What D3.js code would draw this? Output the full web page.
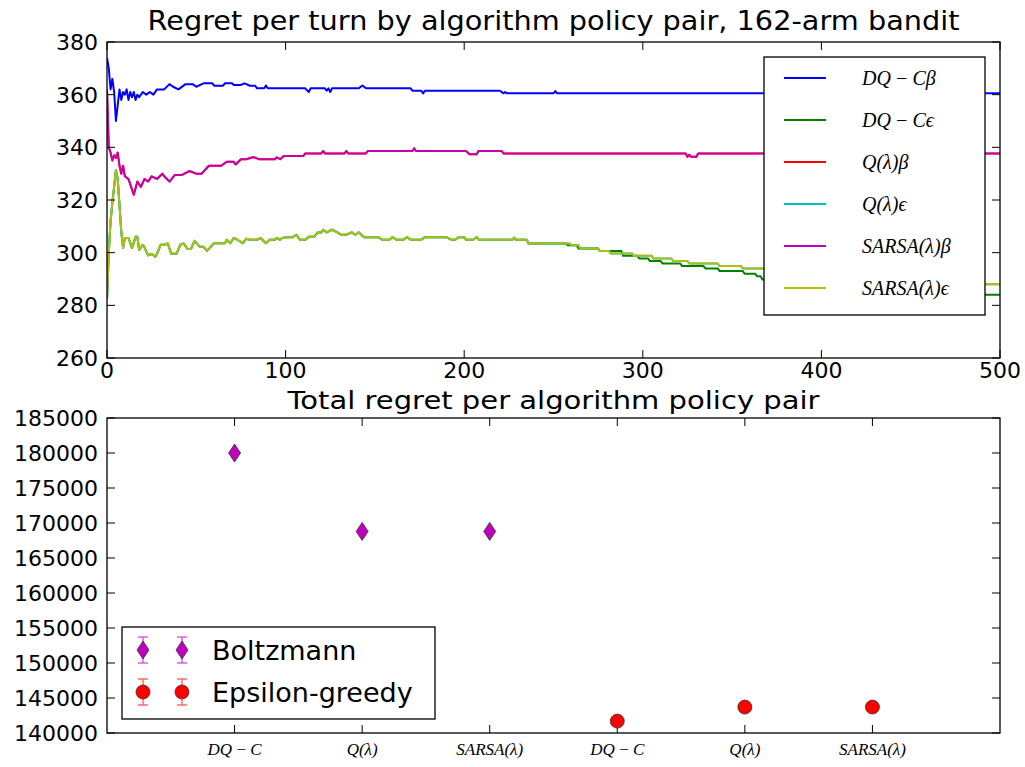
<!DOCTYPE html>
<html>
<head>
<meta charset="utf-8">
<script src="https://cdn.jsdelivr.net/npm/d3@7"></script>
<style>
  body { margin: 0; background: #fff; }
  text { font-family: "DejaVu Sans", sans-serif; }
  .math { font-family: "Liberation Serif", serif; font-style: italic; }
</style>
</head>
<body>
<script>
// ---- data: regret per turn as [turn, regret] breakpoints ----
var dqcBeta = [[0,374],[1,370],[2,362],[3,366],[4,361],[5,350],[6,356],[7,362],[8,358],[9,361],[10,360],[11,362],[12,358],[13,361],[14,359],[15,361],[16,358],[17,360],[18,359],[20,361],[22,360],[24,361],[26,360],[28,362],[32,362],[35,364],[37,363],[40,362],[44,364],[48,364],[50,363],[54,364.3],[59,364.3],[60,363.4],[65,363.4],[66,364.3],[70,364.3],[71,363.7],[75,363.7],[77,364.3],[80,363.4],[83,363.4],[84,362.4],[88,362.4],[89,363.5],[90,362.4],[111,362.4],[113,361],[114,362.4],[122,362.4],[123,361.5],[124,362.4],[125,361],[126,362.4],[141,362.4],[143,363.5],[145,362.4],[170,362.4],[171,361.5],[176,361.5],[177,360.5],[178,361.5],[220,361.5],[222,360.5],[223,361],[224,360.5],[250,360.5],[251,361.4],[252,360.5],[500,360.5]];

var sarsaBeta = [[0,362],[1,340],[2,338],[3,335],[4,337],[5,336],[6,338],[7,333],[8,330],[9,333],[10,329],[12,328],[13,326],[15,322],[17,327],[19,325],[21,328],[23,327],[25,329],[28,328],[31,330],[32,329],[35,327],[38,329.5],[42,329.5],[46,331],[50,330],[53,330],[57,333],[64,333],[67,334.5],[71,334.5],[72,333.5],[75,335.5],[78,335.5],[82,336.3],[85,335.5],[94,335.5],[95,336.2],[97,335.5],[99,336.7],[110,336.7],[111,337.7],[120,337.7],[121,338.6],[122,337.7],[133,337.7],[134,338.6],[135,337.7],[145,337.7],[146,338.6],[171,338.6],[172,339.6],[173,338.6],[201,338.6],[203,337.4],[207,337.4],[208,338.6],[221,338.6],[222,337.7],[324,337.7],[325,336.4],[326,337.2],[327,336.4],[330,336.4],[331,337.7],[500,337.7]];

var sarsaEps = [[0,282],[1,300],[2,312],[3,319],[4,325],[5,331.4],[6,328],[7,318],[8,308],[9,301.8],[10,305.6],[12,305.6],[14,301.8],[16,306],[17,306],[18,301],[20,303],[21,302],[23,299],[25,299.5],[27,298.5],[28,299.5],[30,303],[32,303],[34,303.5],[36,299.6],[39,299.6],[41,303],[43,303.5],[45,301.4],[47,301.4],[49,304.5],[52,302.2],[54,302.2],[56,300.7],[60,303.6],[66,303.6],[67,304.9],[69,303.6],[71,305.6],[73,304.9],[76,303.6],[78,305.3],[80,304.9],[84,304.9],[86,305.6],[89,303.6],[91,304.9],[94,304.9],[95,305.6],[97,304.9],[98,305.6],[101,305.9],[104,305.9],[106,306.8],[108,304.9],[111,304.9],[113,306],[116,306],[118,307.7],[120,307.7],[121,308.7],[123,307.7],[126,308.7],[129,307.7],[131,306.8],[134,306.8],[137,307.7],[139,306.8],[141,307.7],[144,305.9],[152,305.9],[154,304.9],[158,304.9],[160,305.9],[162,304.9],[166,304.9],[168,305.9],[170,304.9],[176,304.9],[178,305.9],[190,305.9],[193,304.9],[195,304.9],[197,305.9],[200,305.9],[201,304.9],[205,304.9],[207,305.9],[208,304.9],[227,304.9],[228,305.7],[229,304.9],[235,304.9],[236,303.5],[259,303.5],[260,302.8],[264,302.8],[265,301.6],[275,301.6],[276,300.6],[281,300.6],[282,299.7],[294,299.7],[295,298.8],[305,298.8],[306,297.8],[316,297.8],[317,296.8],[325,296.8],[326,295.9],[342,295.9],[343,294.9],[355,294.9],[356,294],[372,294],[373,293.2],[400,293.2],[401,292],[440,292],[441,290.5],[470,290.5],[471,288],[500,288]];

// DQ-C epsilon follows SARSA epsilon until turn ~257, then drops a little lower
var dqcEpsTail = [[257,303.5],[258,302.8],[263,302.8],[264,301.6],[275,301.6],[276,300.6],[288,300.6],[289,298.8],[297,298.8],[298,297.8],[303,297.8],[304,296.8],[310,296.8],[311,295.9],[321,295.9],[322,294.9],[334,294.9],[335,294],[342,294],[343,293],[356,293],[357,292],[363,292],[364,291],[366,291],[367,289.8],[400,289.8],[401,288],[440,288],[441,286],[470,286],[471,284],[500,284]];

// Q(lambda) curves sit right under the SARSA(lambda) ones
var qBeta = sarsaBeta;
var qEps = sarsaEps;

var seriesNames = ["DQ\u2009\u2212\u2009C\u03B2", "DQ\u2009\u2212\u2009C\u03F5", "Q(\u03BB)\u03B2", "Q(\u03BB)\u03F5", "SARSA(\u03BB)\u03B2", "SARSA(\u03BB)\u03F5"];
var seriesColors = ["#0000ff", "#008000", "#ff0000", "#00bfbf", "#bf00bf", "#bfbf00"];

// ---- data: total regret ----
var algoLabels = ["DQ\u2009\u2212\u2009C", "Q(\u03BB)", "SARSA(\u03BB)"];
var boltzmannTotal = [180000, 168800, 168800];
var epsilonTotal = [141700, 143700, 143700];

var W = 1025, H = 767;
var svg = d3.select("body").append("svg")
    .attr("width", W)
    .attr("height", H);

var dqcEps = sarsaEps.filter(function(d) { return d[0] < 257; }).concat(dqcEpsTail);
var allSeries = [dqcBeta, dqcEps, qBeta, qEps, sarsaBeta, sarsaEps];

// ================= top panel =================
var top1 = {left: 107, right: 1000, top: 42, bottom: 358};
var x1 = d3.scaleLinear().domain([0, 500]).range([top1.left, top1.right]);
var y1 = d3.scaleLinear().domain([260, 380]).range([top1.bottom, top1.top]);

var g1 = svg.append("g");

svg.append("clipPath").attr("id", "clip1")
  .append("rect")
    .attr("x", top1.left).attr("y", top1.top)
    .attr("width", top1.right - top1.left).attr("height", top1.bottom - top1.top);

var line = d3.line()
    .x(function(d) { return x1(d[0]); })
    .y(function(d) { return y1(d[1]); });

g1.append("g").attr("clip-path", "url(#clip1)")
  .selectAll("path")
    .data(allSeries)
  .enter().append("path")
    .attr("d", line)
    .attr("fill", "none")
    .attr("stroke", function(d, i) { return seriesColors[i]; })
    .attr("stroke-opacity", function(d, i) { return i == 4 ? 0.85 : (i == 5 ? 0.9 : 1); })
    .attr("stroke-width", 2)
    .attr("stroke-linejoin", "round");

// axes, matplotlib classic look: ticks inside on all four sides
function frame(g, b, xs, ys, xticks, yticks, yfmt) {
  g.append("rect")
    .attr("x", b.left).attr("y", b.top)
    .attr("width", b.right - b.left).attr("height", b.bottom - b.top)
    .attr("fill", "none").attr("stroke", "#000").attr("stroke-width", 1.3);
  xticks.forEach(function(t) {
    var px = xs(t);
    g.append("line").attr("x1", px).attr("x2", px).attr("y1", b.bottom).attr("y2", b.bottom - 8).attr("stroke", "#000");
    g.append("line").attr("x1", px).attr("x2", px).attr("y1", b.top).attr("y2", b.top + 8).attr("stroke", "#000");
  });
  yticks.forEach(function(t) {
    var py = ys(t);
    g.append("line").attr("x1", b.left).attr("x2", b.left + 8).attr("y1", py).attr("y2", py).attr("stroke", "#000");
    g.append("line").attr("x1", b.right).attr("x2", b.right - 8).attr("y1", py).attr("y2", py).attr("stroke", "#000");
  });
  g.selectAll(".ylab").data(yticks).enter().append("text")
    .attr("x", b.left - 9)
    .attr("y", function(d) { return ys(d); })
    .attr("dy", "0.36em")
    .attr("text-anchor", "end")
    .style("font-size", "22px")
    .text(yfmt);
}

var xTicksTop = [0, 100, 200, 300, 400, 500];
var yTicksTop = d3.range(260, 381, 20);
frame(g1, top1, x1, y1, xTicksTop, yTicksTop, function(d) { return d; });

g1.selectAll(".xlab").data(xTicksTop).enter().append("text")
    .attr("x", function(d) { return x1(d); })
    .attr("y", top1.bottom + 20)
    .attr("text-anchor", "middle")
    .style("font-size", "22px")
    .text(function(d) { return d; });

g1.append("text")
    .attr("x", (top1.left + top1.right) / 2)
    .attr("y", 30)
    .attr("text-anchor", "middle")
    .attr("textLength", 812)
    .attr("lengthAdjust", "spacingAndGlyphs")
    .style("font-size", "27px")
    .text("Regret per turn by algorithm policy pair, 162-arm bandit");

// legend for top panel
var leg1 = g1.append("g");
leg1.append("rect")
    .attr("x", 764).attr("y", 57).attr("width", 221).attr("height", 258)
    .attr("fill", "#fff").attr("stroke", "#000").attr("stroke-width", 1.3);
var legItems = leg1.selectAll(".item")
    .data(seriesNames)
  .enter().append("g")
    .attr("transform", function(d, i) { return "translate(0," + (78 + i * 42) + ")"; });
legItems.append("line")
    .attr("x1", 784).attr("x2", 826).attr("y1", 0).attr("y2", 0)
    .attr("stroke", function(d, i) { return seriesColors[i]; })
    .attr("stroke-width", 2);
legItems.append("text")
    .attr("class", "math")
    .attr("x", 862).attr("y", 0).attr("dy", "0.33em")
    .style("font-size", "20px")
    .text(function(d) { return d; });

// ================= bottom panel =================
var bot = {left: 107, right: 1000, top: 418, bottom: 733};
var x2 = d3.scaleLinear().domain([0, 7]).range([bot.left, bot.right]);
var y2 = d3.scaleLinear().domain([140000, 185000]).range([bot.bottom, bot.top]);
var g2 = svg.append("g");

var yTicksBot = d3.range(140000, 185001, 5000);
var xTicksBot = [1, 2, 3, 4, 5, 6];
frame(g2, bot, x2, y2, xTicksBot, yTicksBot, function(d) { return d; });

var xLabelsBot = algoLabels.concat(algoLabels);
g2.selectAll(".xlab").data(xTicksBot).enter().append("text")
    .attr("class", "math")
    .attr("x", function(d) { return x2(d); })
    .attr("y", bot.bottom + 22)
    .attr("text-anchor", "middle")
    .style("font-size", "17px")
    .text(function(d, i) { return xLabelsBot[i]; });

g2.append("text")
    .attr("x", (bot.left + bot.right) / 2)
    .attr("y", 409)
    .attr("text-anchor", "middle")
    .attr("textLength", 532)
    .attr("lengthAdjust", "spacingAndGlyphs")
    .style("font-size", "24px")
    .text("Total regret per algorithm policy pair");

var diamond = function(cx, cy) {
  var hw = 6, hh = 9;
  return "M" + cx + "," + (cy - hh) + "L" + (cx + hw) + "," + cy + "L" + cx + "," + (cy + hh) + "L" + (cx - hw) + "," + cy + "Z";
};

g2.selectAll(".boltz").data(boltzmannTotal).enter().append("path")
    .attr("d", function(d, i) { return diamond(x2(i + 1), y2(d)); })
    .attr("fill", "#bf00bf").attr("stroke", "#333").attr("stroke-width", 0.8);

g2.selectAll(".eps").data(epsilonTotal).enter().append("circle")
    .attr("cx", function(d, i) { return x2(i + 4); })
    .attr("cy", function(d) { return y2(d); })
    .attr("r", 7)
    .attr("fill", "#ff0000").attr("stroke", "#333").attr("stroke-width", 0.8);

// legend for bottom panel (two points each, with error bar caps)
var leg2 = g2.append("g");
leg2.append("rect")
    .attr("x", 122).attr("y", 627).attr("width", 313).attr("height", 92)
    .attr("fill", "#fff").attr("stroke", "#000").attr("stroke-width", 1.3);
var legEntries = [
  {name: "Boltzmann", color: "#bf00bf", bar: "#dd44dd", y: 650, shape: "d"},
  {name: "Epsilon-greedy", color: "#ff0000", bar: "#ff5555", y: 692, shape: "o"}
];
legEntries.forEach(function(e) {
  [143, 182].forEach(function(px) {
    leg2.append("line").attr("x1", px).attr("x2", px).attr("y1", e.y - 13).attr("y2", e.y + 13).attr("stroke", e.bar).attr("stroke-width", 1.3);
    leg2.append("line").attr("x1", px - 5).attr("x2", px + 5).attr("y1", e.y - 13).attr("y2", e.y - 13).attr("stroke", e.bar).attr("stroke-width", 1.3);
    leg2.append("line").attr("x1", px - 5).attr("x2", px + 5).attr("y1", e.y + 13).attr("y2", e.y + 13).attr("stroke", e.bar).attr("stroke-width", 1.3);
    if (e.shape == "d") {
      leg2.append("path").attr("d", diamond(px, e.y)).attr("fill", e.color).attr("stroke", "#333").attr("stroke-width", 0.8);
    } else {
      leg2.append("circle").attr("cx", px).attr("cy", e.y).attr("r", 7).attr("fill", e.color).attr("stroke", "#333").attr("stroke-width", 0.8);
    }
  });
  leg2.append("text")
    .attr("x", 212).attr("y", e.y).attr("dy", "0.36em")
    .style("font-size", "27px")
    .text(e.name);
});
</script>
</body>
</html>
